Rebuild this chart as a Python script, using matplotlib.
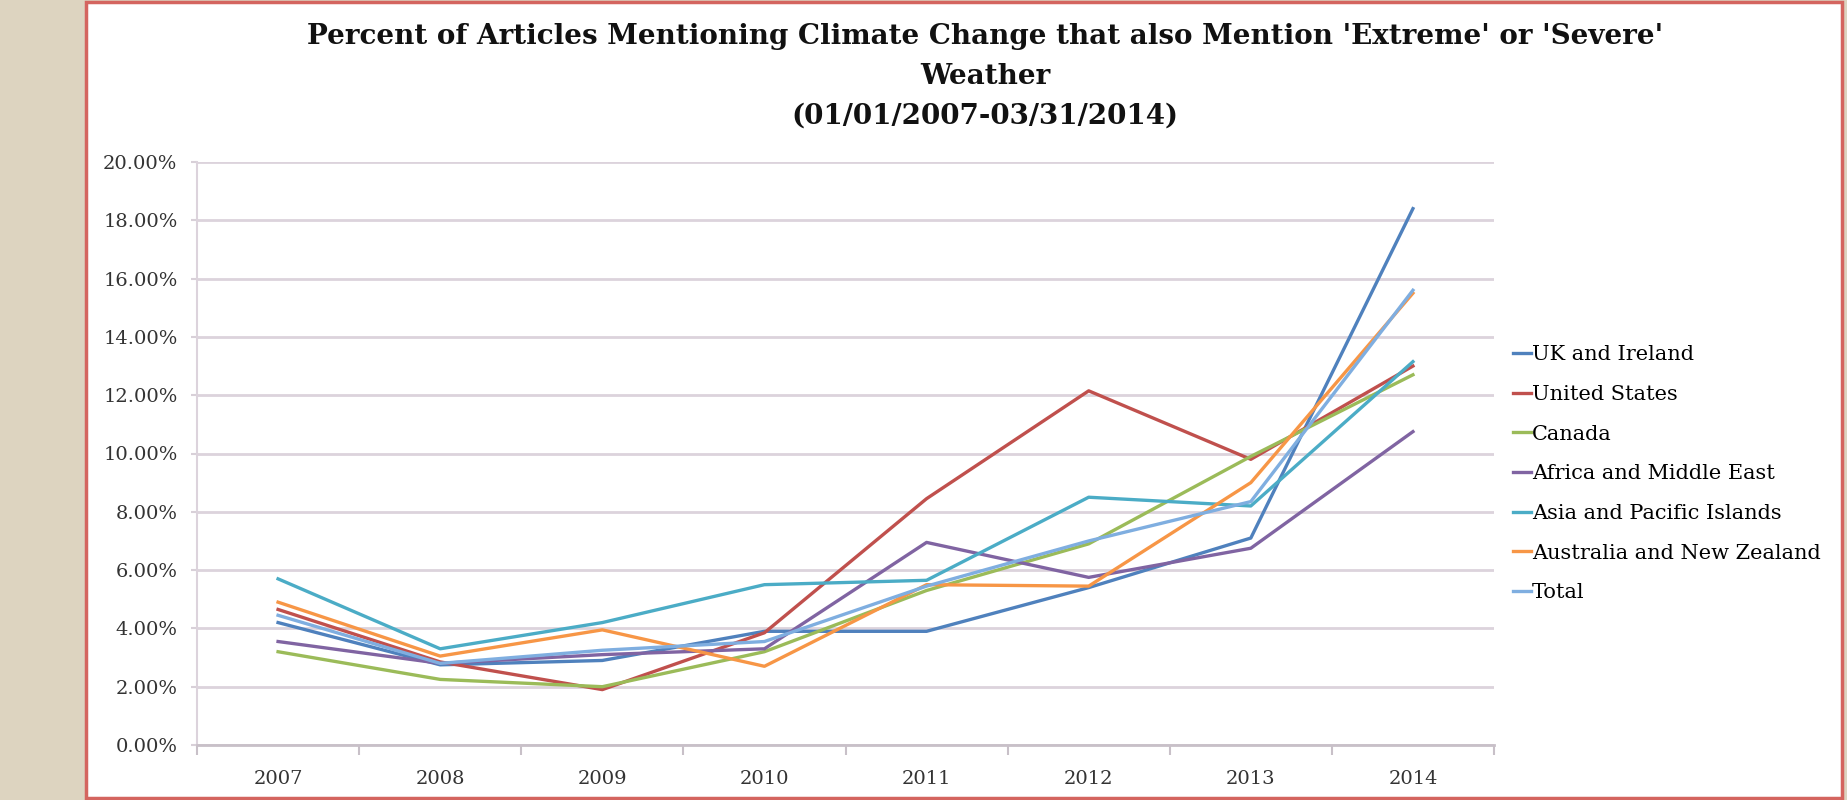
import matplotlib
matplotlib.use("Agg")
from matplotlib import pyplot as plt
from matplotlib.patches import Rectangle
from matplotlib.ticker import FuncFormatter, FixedLocator

# Data (percent of articles)
years = ["2007", "2008", "2009", "2010", "2011", "2012", "2013", "2014"]
uk_ireland = [4.2, 2.75, 2.9, 3.9, 3.9, 5.4, 7.1, 18.4]
united_states = [4.65, 2.85, 1.9, 3.85, 8.45, 12.15, 9.8, 13.0]
canada = [3.2, 2.25, 2.0, 3.2, 5.3, 6.9, 9.9, 12.7]
africa_me = [3.55, 2.8, 3.1, 3.3, 6.95, 5.75, 6.75, 10.75]
asia_pacific = [5.7, 3.3, 4.2, 5.5, 5.65, 8.5, 8.2, 13.15]
australia_nz = [4.9, 3.05, 3.95, 2.7, 5.5, 5.45, 9.0, 15.5]
total = [4.45, 2.8, 3.25, 3.55, 5.45, 7.0, 8.35, 15.6]

series_names = ["UK and Ireland", "United States", "Canada", "Africa and Middle East",
                "Asia and Pacific Islands", "Australia and New Zealand", "Total"]
series_values = [uk_ireland, united_states, canada, africa_me, asia_pacific, australia_nz, total]
colors = ["#4F81BD", "#C0504D", "#9BBB59", "#8064A2", "#4BACC6", "#F79646", "#7FAEE0"]

plt.rcParams["font.family"] = ["DejaVu Serif"]

fig = plt.figure(figsize=(18.47, 8), dpi=100)
fig.patch.set_facecolor("#DDD4C0")

# white slide panel with red frame, kept behind the axes
panel = Rectangle((86 / 1847, 2 / 800), 1756 / 1847, 796 / 800, transform=fig.transFigure,
                  facecolor="white", edgecolor="#D4655F", linewidth=2.5, zorder=-10)
fig.patches.append(panel)

ax = fig.add_axes([197 / 1847, 55 / 800, 1297 / 1847, 583 / 800])
ax.set_facecolor("none")

x = list(range(len(years)))
for name, vals, c in zip(series_names, series_values, colors):
    ax.plot(x, vals, color=c, linewidth=2.4, label=name)

ax.set_xlim(-0.5, len(years) - 0.5)
ax.set_ylim(0, 20)
ax.set_yticks(range(0, 21, 2))
ax.yaxis.set_major_formatter(FuncFormatter(lambda v, p: "%.2f%%" % v))
ax.set_xticks(x)
ax.set_xticklabels(years)
ax.xaxis.set_minor_locator(FixedLocator([i - 0.5 for i in range(len(years) + 1)]))
ax.tick_params(axis="x", which="major", length=0, pad=18, labelsize=14, labelcolor="#333333")
ax.tick_params(axis="x", which="minor", length=7, color="#C8C0C8", width=1.5)
ax.tick_params(axis="y", length=4, color="#D8D0D8", width=1.5, pad=10, labelsize=14,
               labelcolor="#333333")
ax.grid(axis="y", color="#DCD3DC", linewidth=2)
ax.set_axisbelow(True)
for side in ["top", "right"]:
    ax.spines[side].set_visible(False)
ax.spines["left"].set_color("#DCD3DC")
ax.spines["left"].set_linewidth(1.5)
ax.spines["bottom"].set_color("#C8C0C8")
ax.spines["bottom"].set_linewidth(2)

fig.text(985 / 1847, 1 - 23 / 800,
         "Percent of Articles Mentioning Climate Change that also Mention 'Extreme' or 'Severe'\n"
         "Weather\n(01/01/2007-03/31/2014)",
         ha="center", va="top", fontsize=20, fontweight="bold", linespacing=1.62, color="#111111")

ax.legend(loc="upper left", bbox_to_anchor=(1503 / 1847, 1 - 335 / 800),
          bbox_transform=fig.transFigure, frameon=False, fontsize=15,
          handlelength=0.85, handletextpad=0.05, labelspacing=0.99, borderpad=0)

fig.savefig("out.png", dpi=100, facecolor=fig.get_facecolor())
